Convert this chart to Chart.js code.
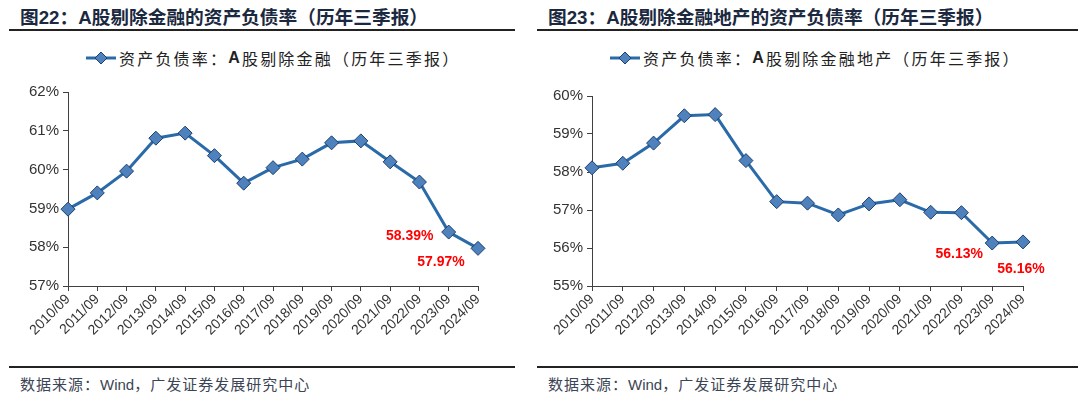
<!DOCTYPE html>
<html>
<head>
<meta charset="utf-8">
<script src="https://cdn.jsdelivr.net/npm/chart.js@4.4.1/dist/chart.umd.min.js"></script>
<style>
  body { margin: 0; width: 1080px; height: 396px; background: #fff; position: relative; overflow: hidden;
         font-family: "Liberation Sans", "Noto Sans CJK SC", sans-serif; }
  .title { position: absolute; top: 2px; font: bold 18.7px "Liberation Sans", "Noto Sans CJK SC", sans-serif; color: #1b2940; white-space: nowrap; }
  .rule { position: absolute; height: 2px; background: #222; }
  .legend { position: absolute; top: 46px; font: 16px "Noto Sans CJK SC", sans-serif; letter-spacing: 2.2px; color: #222; white-space: nowrap; display: flex; align-items: center; }
  .legend b { font-family: "Liberation Sans", sans-serif; }
  .legend svg { margin-right: 3px; }
  .src { position: absolute; top: 373px; font: 15px "Noto Sans CJK SC", sans-serif; letter-spacing: 1px; color: #3b4556; white-space: nowrap; }
  .src span { font-family: "Liberation Sans", sans-serif; letter-spacing: 0; }
  .box { position: absolute; top: 75px; width: 540px; height: 285px; }
</style>
</head>
<body>
<div class="title" style="left:20px">图22：A股剔除金融的资产负债率（历年三季报）</div>
<div class="title" style="left:548px">图23：A股剔除金融地产的资产负债率（历年三季报）</div>
<div class="rule" style="left:9px; width:506px; top:29px"></div>
<div class="rule" style="left:537px; width:541px; top:29px"></div>

<div class="legend" style="left:86px">
  <svg width="30" height="14"><line x1="0" y1="7" x2="30" y2="7" stroke="#2a6aa8" stroke-width="3"/><polygon points="15,1 21,7 15,13 9,7" fill="#4f81bd" stroke="#1c3f6e" stroke-width="1"/></svg>资产负债率：<b>A</b>股剔除金融（历年三季报）
</div>
<div class="legend" style="left:610px">
  <svg width="30" height="14"><line x1="0" y1="7" x2="30" y2="7" stroke="#2a6aa8" stroke-width="3"/><polygon points="15,1 21,7 15,13 9,7" fill="#4f81bd" stroke="#1c3f6e" stroke-width="1"/></svg>资产负债率：<b>A</b>股剔除金融地产（历年三季报）
</div>

<div class="box" style="left:0"><canvas id="c1"></canvas></div>
<div class="box" style="left:540px"><canvas id="c2"></canvas></div>

<div class="rule" style="left:9px; width:506px; top:366px"></div>
<div class="rule" style="left:537px; width:541px; top:366px"></div>
<div class="src" style="left:20px">数据来源：<span>Wind</span>，广发证券发展研究中心</div>
<div class="src" style="left:548px">数据来源：<span>Wind</span>，广发证券发展研究中心</div>

<script>
const periods = ['2010/09','2011/09','2012/09','2013/09','2014/09','2015/09','2016/09','2017/09',
                 '2018/09','2019/09','2020/09','2021/09','2022/09','2023/09','2024/09'];
const exFinance = [58.98, 59.40, 59.96, 60.81, 60.94, 60.36, 59.65, 60.05, 60.27, 60.69, 60.74, 60.20, 59.68, 58.39, 57.97];
const exFinanceRE = [58.11, 58.23, 58.76, 59.48, 59.51, 58.30, 57.22, 57.18, 56.87, 57.16, 57.27, 56.94, 56.93, 56.13, 56.16];
const range1 = [57, 62];
const range2 = [55, 60];

// red labels on the last two points: [index, dx, dy]
const notes1 = [[13, -39, 4], [14, -37, 14]];
const notes2 = [[13, -33, 11], [14, -2, 27]];

const axisColor = '#404040';

const redLabels = {
  id: 'redLabels',
  afterDatasetsDraw(chart, args, opts) {
    const ctx = chart.ctx;
    const ds = chart.data.datasets[0].data;
    ctx.save();
    ctx.fillStyle = '#ff0000';
    ctx.font = 'bold 14px "Liberation Sans", Arial, sans-serif';
    ctx.textAlign = 'center';
    ctx.textBaseline = 'middle';
    opts.notes.forEach(([i, dx, dy]) => {
      const x = chart.scales.x.getPixelForValue(i);
      const y = chart.scales.y.getPixelForValue(ds[i]);
      ctx.fillText(ds[i].toFixed(2) + '%', x + dx, y + dy);
    });
    ctx.restore();
  }
};

function makeChart(id, values, range, notes, yWidth, padTop, padRight) {
  return new Chart(document.getElementById(id), {
    type: 'line',
    data: {
      labels: periods,
      datasets: [{
        data: values,
        borderColor: '#2a6aa8',
        borderWidth: 3,
        pointStyle: 'rectRot',
        pointRadius: 7,
        pointBackgroundColor: '#4f81bd',
        pointBorderColor: '#1c3f6e',
        pointBorderWidth: 1,
        tension: 0
      }]
    },
    options: {
      responsive: true,
      maintainAspectRatio: false,
      animation: false,
      layout: { padding: { top: padTop, right: padRight, left: 0, bottom: 0 } },
      plugins: { legend: { display: false }, tooltip: { enabled: false }, redLabels: { notes: notes } },
      scales: {
        x: {
          offset: false,
          afterFit: s => { s.height = 74; },
          grid: { drawOnChartArea: false, tickLength: 5, color: axisColor },
          border: { color: axisColor, width: 1 },
          ticks: { minRotation: 45, maxRotation: 45, autoSkip: false, color: '#333',
                   font: { size: 14, family: '"Liberation Sans", Arial, sans-serif' }, padding: 0 }
        },
        y: {
          min: range[0], max: range[1],
          afterFit: s => { s.width = yWidth; },
          grid: { drawOnChartArea: false, tickLength: 5, color: axisColor },
          border: { color: axisColor, width: 1 },
          ticks: { stepSize: 1, color: '#333', padding: 4,
                   font: { size: 15, family: '"Liberation Sans", Arial, sans-serif' },
                   callback: v => v + '%' }
        }
      }
    },
    plugins: [redLabels]
  });
}

makeChart('c1', exFinance, range1, notes1, 68, 17, 62);
makeChart('c2', exFinanceRE, range2, notes2, 52, 21, 57);
</script>
</body>
</html>
